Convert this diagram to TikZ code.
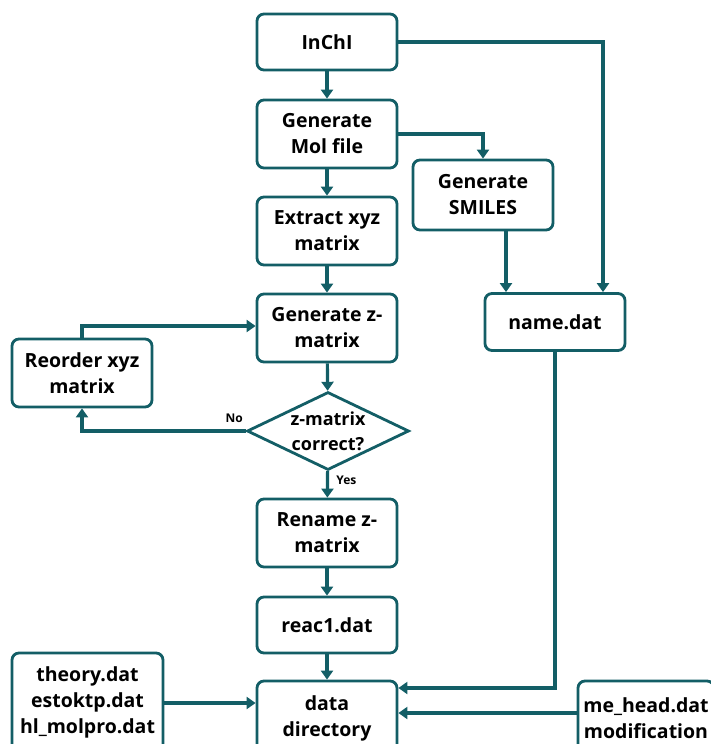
\documentclass[tikz,border=0pt]{standalone}
\usepackage{fontspec}
\setmainfont{Open Sans}
\usetikzlibrary{shapes.geometric,arrows.meta}
\definecolor{flow}{HTML}{135E66}
\tikzset{
  box/.style={draw=flow, line width=2.8pt, rounded corners=7pt, fill=white,
    minimum width=140pt, align=center, font=\bfseries\fontsize{19.5}{26}\selectfont, inner sep=0pt},
  decide/.style={draw=flow, line width=2.8pt, diamond, aspect=2.1, fill=white,
    minimum width=162pt, minimum height=78pt, align=center, inner sep=0pt,
    font=\bfseries\fontsize{18}{25}\selectfont},
  link/.style={draw=flow, line width=3.2pt, -{Triangle[length=9pt,width=12pt]}},
  tag/.style={font=\bfseries\fontsize{12}{14}\selectfont}
}
\begin{document}
\begin{tikzpicture}[x=1pt,y=-1pt]
\useasboundingbox (0,0) rectangle (711,744);
\clip (0,0) rectangle (711,744);
% main column
\node[box, minimum height=56pt] (inchi) at (327,42) {InChI};
\node[box, minimum height=68pt] (mol) at (327,134) {Generate\\Mol file};
\node[box, minimum height=68pt] (xyz) at (327,231) {Extract xyz\\matrix};
\node[box, minimum height=68pt] (zmat) at (327,328) {Generate z-\\matrix};
\node[decide] (check) at (328,431) {z-matrix\\correct?};
\node[box, minimum height=68pt] (rename) at (327,533) {Rename z-\\matrix};
\node[box, minimum height=56pt] (reac) at (327,625) {reac1.dat};
\node[box, minimum height=74pt] (data) at (327,718) {data\\directory};
% side boxes
\node[box, minimum height=68pt] (reorder) at (82,373) {Reorder xyz\\matrix};
\node[box, minimum height=70pt] (smiles) at (483,195) {Generate\\SMILES};
\node[box, minimum height=57pt] (name) at (555,322) {name.dat};
\node[box, minimum width=151pt, minimum height=98pt] (theory) at (87.5,702) {theory.dat\\estoktp.dat\\hl\_molpro.dat};
\node[box, minimum width=136pt, minimum height=74pt] (mehead) at (646,718) {me\_head.dat\\modification};

% bend points
\coordinate (c1) at (603,42);
\coordinate (c2) at (483,134);
\coordinate (c3) at (555,688);
\coordinate (c4) at (82,431);
\coordinate (c5) at (82,326);

\draw[link] (inchi) -- (mol);
\draw[link] (mol) -- (xyz);
\draw[link] (xyz) -- (zmat);
\draw[link] (zmat) -- (check);
\draw[link] (check) -- node[tag, right=4pt, pos=0.35] {Yes} (rename);
\draw[link] (rename) -- (reac);
\draw[link] (reac) -- (data);
\draw[link] (inchi.east |- c1) -- (c1) -- (c1 |- name.north);
\draw[link] (mol.east |- c2) -- (c2) -- (smiles.north);
\draw[link] (smiles.south -| 506,0) -- (name.north -| 506,0);
\draw[link] (name.south -| c3) -- (c3) -- (data.east |- c3);
\draw[link] (check.west) -- node[tag, above=3pt, pos=0.07] {No} (c4) -- (reorder.south);
\draw[link] (reorder.north -| c5) -- (c5) -- (zmat.west |- c5);
\draw[link] (theory.east |- 0,703) -- (data.west |- 0,703);
\draw[link] (mehead.west |- 0,713) -- (data.east |- 0,713);
\end{tikzpicture}
\end{document}
